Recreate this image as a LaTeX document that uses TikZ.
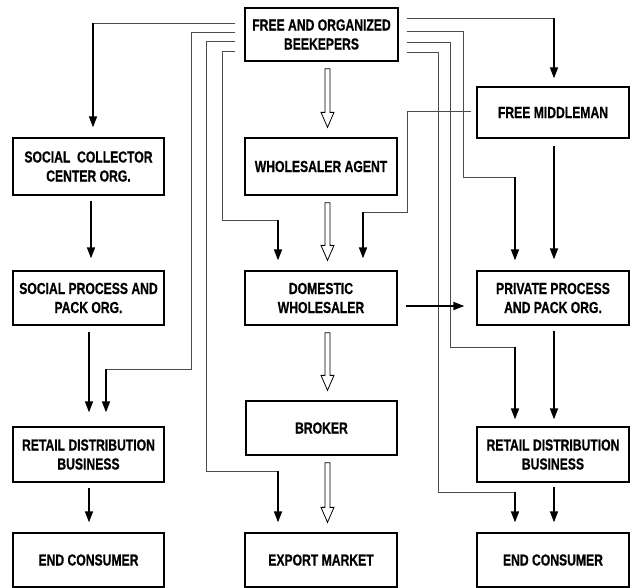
\documentclass[tikz,border=0pt]{standalone}
\usepackage{fontspec}
\setmainfont{Liberation Sans}[FakeStretch=0.76, BoldFeatures={FakeBold=0.6}]
\usetikzlibrary{arrows.meta,calc}

\tikzset{
  box/.style={draw, line width=1.3pt, minimum width=152pt, minimum height=54pt,
    align=center, inner sep=2pt, font=\fontsize{16}{19}\selectfont\bfseries},
  link/.style={draw=black!70, line width=0.9pt},
  arr/.style={line width=1.6pt, -{Triangle[length=11pt,width=8pt]}, shorten >=10pt},
  hollow/.style={line width=0.8pt, to path={let \p1=(\tikztostart), \p2=(\tikztotarget) in
    (\x1-2.5pt,\y1-7pt) -- (\x1-2.5pt,\y2+25pt) -- (\x1-6.5pt,\y2+25pt) -- (\x1,\y2+10pt)
    -- (\x1+6.5pt,\y2+25pt) -- (\x1+2.5pt,\y2+25pt) -- (\x1+2.5pt,\y1-7pt) -- cycle}}
}

\begin{document}
\begin{tikzpicture}[x=1pt, y=-1pt]
  \useasboundingbox (0,0) rectangle (632,587);
  \clip (0,0) rectangle (632,587);

  % boxes
  \node[box, minimum width=153pt, minimum height=53pt] (bee) at (321.5,34.5) {FREE AND ORGANIZED\\BEEKEPERS};
  \node[box, minimum height=57pt] (agent) at (321,166.5) {WHOLESALER AGENT};
  \node[box] (dom) at (321,298) {DOMESTIC\\WHOLESALER};
  \node[box, minimum width=151pt] (broker) at (321.5,428) {BROKER};
  \node[box] (export) at (321,560) {EXPORT MARKET};
  \node[box, minimum width=151pt, minimum height=57pt] (coll) at (88.5,166.5) {SOCIAL\ \ COLLECTOR\\CENTER ORG.};
  \node[box, minimum width=151pt] (proc) at (88.5,298) {SOCIAL PROCESS AND\\PACK ORG.};
  \node[box, minimum width=151pt, minimum height=55pt] (retL) at (88.5,454.5) {RETAIL DISTRIBUTION\\BUSINESS};
  \node[box, minimum width=151pt] (endL) at (88.5,560) {END CONSUMER};
  \node[box, minimum height=51pt] (mid) at (553,112.5) {FREE MIDDLEMAN};
  \node[box] (priv) at (553,298) {PRIVATE PROCESS\\AND PACK ORG.};
  \node[box, minimum height=55pt] (retR) at (553,454.5) {RETAIL DISTRIBUTION\\BUSINESS};
  \node[box] (endR) at (553,560) {END CONSUMER};

  % lines leaving the beekepers, left side
  \coordinate (a1) at (93,23);
  \coordinate (a2) at (106,369);
  \coordinate (a3) at (278,471);
  \coordinate (a4) at (278,220);
  \draw[link] (bee.west) ++(-9,-11.5) -- (a1);
  \draw[link] (bee.west) ++(-9,-2.5) -| (191,369) -- (a2);
  \draw[link] (bee.west) ++(-9,6.5) -| (206,471) -- (a3);
  \draw[link] (bee.west) ++(-9,16.5) -| (222,220) -- (a4);
  \draw[arr] (a1) -- (a1 |- coll.north);
  \draw[arr, shorten >=14pt] (a2) -- (a2 |- retL.north);
  \draw[arr] (a3) -- (a3 |- export.north);
  \draw[arr] (a4) -- (a4 |- dom.north);

  % right side
  \coordinate (b1) at (554,18);
  \coordinate (b2) at (515,177);
  \coordinate (b3) at (515,347);
  \coordinate (b4) at (515,492);
  \draw[link] (bee.east) ++(8,-16.5) -- (b1);
  \draw[link] (bee.east) ++(8,-3.5) -| (463,177) -- (b2);
  \draw[link] (bee.east) ++(8,7.5) -| (450,347) -- (b3);
  \draw[link] (bee.east) ++(8,17.5) -| (438,492) -- (b4);
  \draw[arr, shorten >=8pt] (b1) -- (b1 |- mid.north);
  \draw[arr] (b2) -- (b2 |- priv.north);
  \draw[arr, shorten >=7pt] (b3) -- (b3 |- retR.north);
  \draw[arr] (b4) -- (b4 |- endR.north);

  % middleman to wholesaler
  \coordinate (c1) at (363,212);
  \draw[link] (mid.west) ++(-5,-1.5) -| (407,212) -- (c1);
  \draw[arr, shorten >=12pt] (c1) -- (c1 |- dom.north);

  % straight arrows
  \draw[arr, shorten <=5pt, shorten >=12pt] (91,0 |- coll.south) -- (91,0 |- proc.north);
  \draw[arr, shorten <=6pt, shorten >=14pt] (89,0 |- proc.south) -- (89,0 |- retL.north);
  \draw[arr, shorten <=5pt] (89,0 |- retL.south) -- (89,0 |- endL.north);
  \draw[arr, shorten <=7pt, shorten >=11pt] (554,0 |- mid.south) -- (554,0 |- priv.north);
  \draw[arr, shorten <=5pt, shorten >=7pt] (554,0 |- priv.south) -- (554,0 |- retR.north);
  \draw[arr, shorten <=4pt] (554,0 |- retR.south) -- (554,0 |- endR.north);
  \draw[arr, shorten <=8pt, shorten >=12pt] (dom.east |- 0,306) -- (priv.west |- 0,306);

  % hollow arrows
  \draw[hollow] (327.5,0 |- bee.south) to (327.5,0 |- agent.north);
  \draw[hollow] (327.5,0 |- agent.south) to (327.5,0 |- dom.north);
  \draw[hollow] (327.5,0 |- dom.south) to (327.5,0 |- broker.north);
  \draw[hollow] (327.5,0 |- broker.south) to (327.5,0 |- export.north);
\end{tikzpicture}
\end{document}
